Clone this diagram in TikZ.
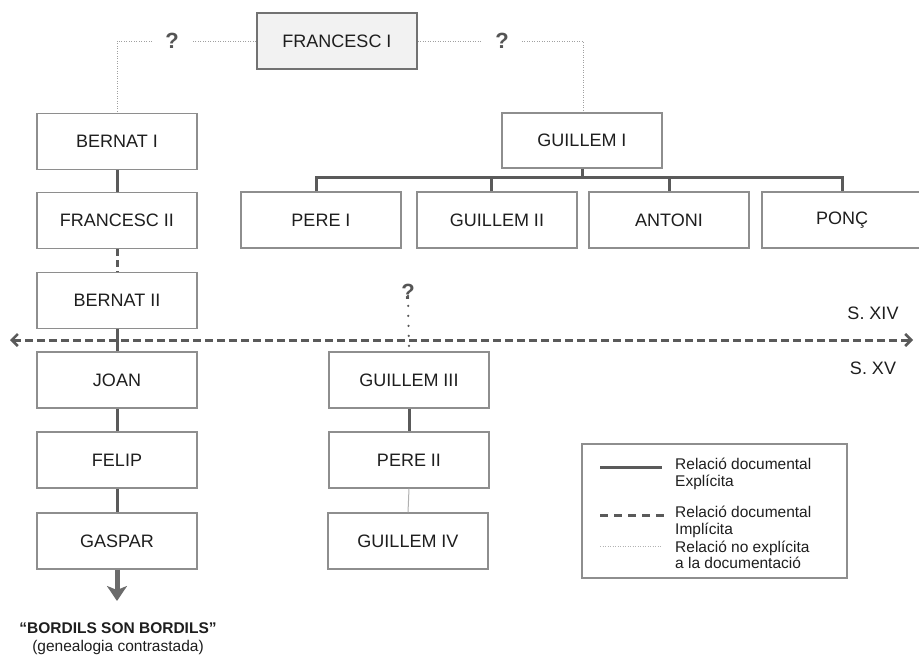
\documentclass[tikz,border=0pt]{standalone}
\usepackage{fontspec}
\setmainfont{Liberation Sans}
\usetikzlibrary{arrows.meta}
\definecolor{lineg}{HTML}{5A5A5A}
\definecolor{boxg}{HTML}{8E8E8E}
\definecolor{dotg}{HTML}{A0A0A0}
\definecolor{txt}{HTML}{1E1E1E}
\definecolor{qg}{HTML}{555555}
\definecolor{topfill}{HTML}{F2F2F2}
\tikzset{
  person/.style={draw=boxg, line width=1.3pt, fill=white, minimum width=160pt, minimum height=56pt, inner sep=0pt, text=txt, font=\fontsize{18}{21}\selectfont},
  qmark/.style={text=qg, font=\bfseries\fontsize{22}{24}\selectfont, inner ysep=0pt, inner xsep=13pt},
  explicit/.style={draw=lineg, line width=3pt},
  implicit/.style={draw=lineg, line width=3pt, dash pattern=on 7pt off 4pt},
  vague/.style={draw=dotg, line width=1pt, dash pattern=on 1pt off 1.5pt},
  sparse/.style={draw=lineg, line width=2.5pt, line cap=round, dash pattern=on 0pt off 10pt},
  thinline/.style={draw=boxg!70, line width=1pt},
  legtext/.style={anchor=west, align=left, text=txt, inner sep=0pt, font=\fontsize{15.5}{16.5}\selectfont},
  century/.style={text=txt, font=\fontsize{18}{21}\selectfont}
}
\begin{document}
\begin{tikzpicture}[x=1pt, y=-1pt]
\useasboundingbox (0,0) rectangle (919,654);
\begin{scope}
\clip (0,0) rectangle (919,654);
% top
\node[person, fill=topfill, draw=boxg!80!black] (F1) at (337,41) {FRANCESC I};
\node[qmark] (qL) at (172,41) {?};
\node[qmark] (qR) at (502,41) {?};
% left column
\node[person] (B1) at (117,141.5) {BERNAT I};
\node[person] (F2) at (117,220.5) {FRANCESC II};
\node[person] (B2) at (117,300.5) {BERNAT II};
\node[person] (JO) at (117,380) {JOAN};
\node[person] (FE) at (117,460) {FELIP};
\node[person] (GA) at (117,541) {GASPAR};
% right family
\node[person, minimum height=55pt] (G1) at (582,140.5) {GUILLEM I};
\node[person] (P1) at (321,220) {PERE I};
\node[person] (G2) at (497,220) {GUILLEM II};
\node[person] (AN) at (669,220) {ANTONI};
\node[person] (PO) at (842,220) {PONÇ};
% middle column
\node[qmark, inner ysep=2pt] (qM) at (408,292) {?};
\node[person] (G3) at (409,380) {GUILLEM III};
\node[person] (P2) at (409,460) {PERE II};
\node[person] (G4) at (408,541) {GUILLEM IV};
\coordinate (busy) at (0,177);
\coordinate (arrL) at (10,340);
\coordinate (arrR) at (913,340);
\coordinate (down) at (117,601);
% vague top links
\draw[vague] (F1.west) -- (qL.east);
\draw[vague] (qL.west) -| (B1.north);
\draw[vague] (F1.east) -- (qR.west);
\draw[vague] (qR.east) -| ([xshift=1pt]G1.north);
% left column links
\draw[explicit] (B1.south) -- (F2.north);
\draw[implicit] (F2.south) -- (B2.north);
\draw[explicit] (B2.south) -- (JO.north);
\draw[explicit] (JO.south) -- (FE.north);
\draw[explicit] (FE.south) -- (GA.north);
\draw[draw=lineg!90!white, line width=5pt, -{Stealth[width=20pt,length=15pt,inset=4pt]}] (GA.south) -- (down);
% bus
\draw[explicit] (G1.south) -- (G1.south |- busy);
\draw[explicit, line cap=butt] ([xshift=-5pt]P1.north) -- ([xshift=-5pt]P1.north |- busy) -- (PO.north |- busy) -- (PO.north);
\draw[explicit] ([xshift=-6pt]G2.north) -- ([xshift=-6pt]G2.north |- busy);
\draw[explicit] (AN.north) -- (AN.north |- busy);
% middle links
\draw[sparse] ([yshift=6pt]qM.south) -- (G3.north);
\draw[explicit] (G3.south) -- (P2.north);
\draw[thinline] (P2.south) -- (G4.north);
% century line
\draw[draw=lineg, line width=3pt, dash pattern=on 8pt off 4pt, {Straight Barb[length=6pt,width=12pt,line width=2.5pt]}-{Straight Barb[length=6pt,width=12pt,line width=2.5pt]}] (arrL) -- (arrR);
\node[century] (s14) at (873,313) {S. XIV};
\node[century] (s15) at (873,368) {S. XV};
% bottom caption
\node[text=txt, font=\bfseries\fontsize{15.5}{18}\selectfont] (cap1) at (118,628) {“BORDILS SON BORDILS”};
\node[text=txt, font=\fontsize{15.5}{18}\selectfont] (cap2) at (118,647) {(genealogia contrastada)};
% legend
\node[draw=boxg, line width=1.3pt, minimum width=265pt, minimum height=134pt, inner sep=0pt] (leg) at (714.5,511) {};
\coordinate (l1a) at (600,467); \coordinate (l1b) at (662,467);
\coordinate (l2a) at (600,515); \coordinate (l2b) at (664,515);
\coordinate (l3a) at (600,546); \coordinate (l3b) at (662,546);
\draw[explicit] (l1a) -- (l1b);
\draw[draw=lineg, line width=3pt, dash pattern=on 8pt off 6pt] (l2a) -- (l2b);
\draw[vague, draw=dotg!80] (l3a) -- (l3b);
\node[legtext] (t1) at (675,474) {Relació documental\\Explícita};
\node[legtext] (t2) at (675,522) {Relació documental\\Implícita};
\node[legtext] (t3) at (675,555) {Relació no explícita\\a la documentació};
\end{scope}
\end{tikzpicture}
\end{document}
